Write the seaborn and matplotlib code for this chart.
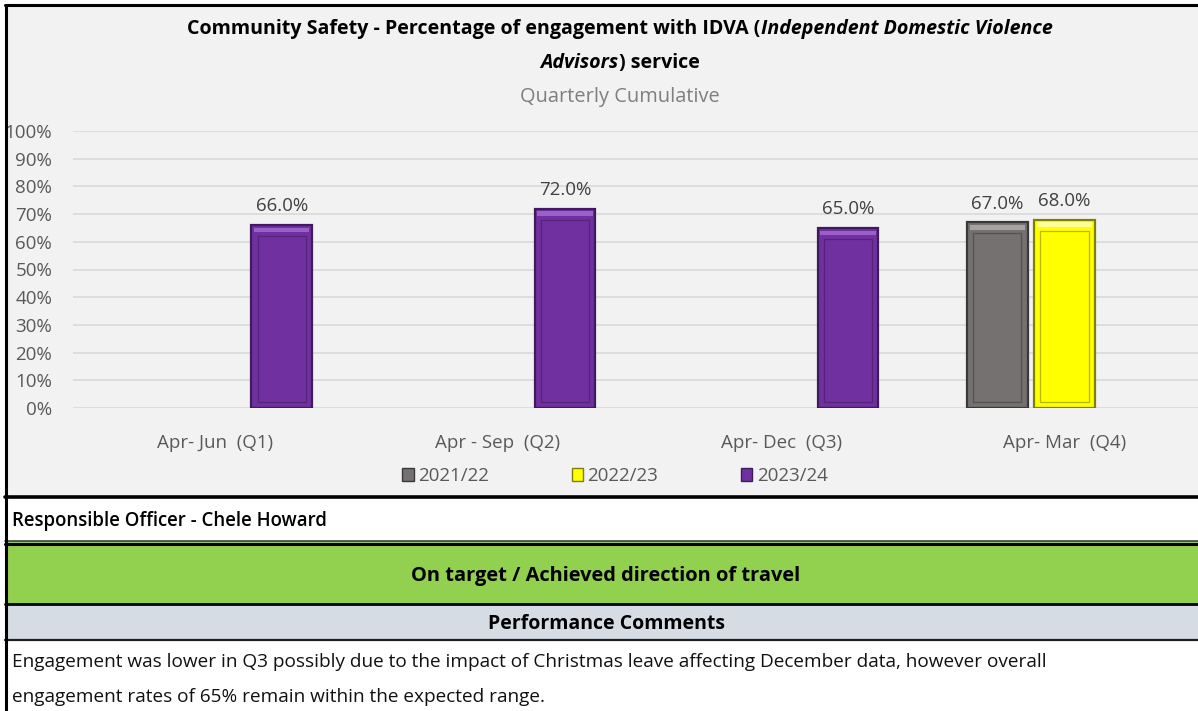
import numpy as np
import pandas as pd
import matplotlib
matplotlib.use("Agg")
import matplotlib.pyplot as plt
from matplotlib.patches import Rectangle, Patch
import seaborn as sns

# ---------------- data ----------------
quarters = ["Apr- Jun  (Q1)", "Apr - Sep  (Q2)", "Apr- Dec  (Q3)", "Apr- Mar  (Q4)"]
years = ["2021/22", "2022/23", "2023/24"]
values_2021_22 = [np.nan, np.nan, np.nan, 67.0]
values_2022_23 = [np.nan, np.nan, np.nan, 68.0]
values_2023_24 = [66.0, 72.0, 65.0, np.nan]
yticks = [0, 10, 20, 30, 40, 50, 60, 70, 80, 90, 100]

title_l1_a = "Community Safety - Percentage of engagement with IDVA ("
title_l1_b = "Independent Domestic Violence"
title_l2_a = "Advisors"
title_l2_b = ") service"
subtitle = "Quarterly Cumulative"
officer = "Responsible Officer - Chele Howard"
status = "On target / Achieved direction of travel"
comments_head = "Performance Comments"
comment_lines = [
    "Engagement was lower in Q3 possibly due to the impact of Christmas leave affecting December data, however overall",
    "engagement rates of 65% remain within the expected range.",
]

colors = {"2021/22": "#767171", "2022/23": "#FFFF00", "2023/24": "#7030A0"}
edges = {"2021/22": "#3A3838", "2022/23": "#7F7F00", "2023/24": "#3F1A5C"}
highlights = {"2021/22": "#A6A2A2", "2022/23": "#FFFF99", "2023/24": "#9A5FC8"}

df = pd.DataFrame({
    "quarter": quarters * 3,
    "year": [years[0]] * 4 + [years[1]] * 4 + [years[2]] * 4,
    "value": values_2021_22 + values_2022_23 + values_2023_24,
})

# ---------------- figure ----------------
sns.set_theme(style="white")
FONT = ["Open Sans", "DejaVu Sans"]
plt.rcParams["font.family"] = FONT

W, H = 1198, 711
fig = plt.figure(figsize=(W / 100, H / 100), dpi=100)
fig.patch.set_facecolor("white")

def fx(px):
    return px / W

def fy(py):
    return 1 - py / H

# chart background panel
fig.patches.append(Rectangle((fx(5), fy(497)), fx(1198 - 5), fy(5) - fy(497),
                             transform=fig.transFigure, facecolor="#F2F2F2",
                             edgecolor="none", zorder=-5))
# table rows
rows = [
    (497, 541, "white"),
    (541, 604, "#92D050"),
    (604, 640, "#D6DCE4"),
    (640, 711, "white"),
]
for top, bot, col in rows:
    fig.patches.append(Rectangle((fx(5), fy(bot)), fx(1198 - 5), fy(top) - fy(bot),
                                 transform=fig.transFigure, facecolor=col,
                                 edgecolor="none", zorder=-5))
# border lines
def hline(py, lw, color="black"):
    fig.add_artist(plt.Line2D([fx(5), 1], [fy(py), fy(py)], transform=fig.transFigure,
                              color=color, lw=lw, zorder=5))
hline(5, 2.2)
hline(497, 2.6)
hline(541, 1.2, "#404040")
hline(543.5, 2.2)
hline(604, 2.0)
hline(640, 1.6, "#202020")
fig.add_artist(plt.Line2D([fx(6), fx(6)], [0, fy(5)], transform=fig.transFigure,
                          color="black", lw=2.2, zorder=5))

# ---------------- axes ----------------
ax = fig.add_axes([fx(73), fy(408), fx(1206 - 73), fy(131) - fy(408)])
ax.set_zorder(2)
ax.set_facecolor("none")
sns.barplot(data=df, x="quarter", y="value", hue="year", order=quarters,
            hue_order=years, palette=colors, width=0.71, gap=0.1,
            saturation=1, ax=ax, legend=False, zorder=3)

ax.set_ylim(0, 100)
ax.set_yticks(yticks)
ax.set_yticklabels([f"{t}%" for t in yticks])
ax.yaxis.grid(True, color="#D9D9D9", lw=1.2, zorder=0)
ax.set_axisbelow(True)
for s in ax.spines.values():
    s.set_visible(False)
ax.tick_params(axis="y", length=0, pad=15, labelsize=13.5, labelcolor="#595959")
ax.tick_params(axis="x", length=0, pad=19, labelsize=13.5, labelcolor="#595959")
ax.set_xlabel("")
ax.set_ylabel("")
ax.set_xlim(-0.5, 3.5)

for cont, yr in zip(ax.containers, years):
    for p in cont.patches:
        p.set_edgecolor(edges[yr])
        p.set_linewidth(1.6)
        x0, y0, w, h = p.get_x(), p.get_y(), p.get_width(), p.get_height()
        if np.isnan(h) or h == 0:
            continue
        ix = w * 0.1
        # top highlight band (bevel)
        ax.add_patch(Rectangle((x0 + w * 0.04, y0 + h - 2.6), w * 0.92, 1.6,
                               facecolor=highlights[yr], edgecolor="none", zorder=4))
        # inner bevel outline
        ax.add_patch(Rectangle((x0 + ix, y0 + 2.0), w - 2 * ix, h - 6.0, facecolor="none",
                               edgecolor=edges[yr], lw=0.9, alpha=0.55, zorder=4))
    ax.bar_label(cont, fmt="%.1f%%", padding=7, fontsize=13.5, color="#404040")

# legend
handles = [Patch(facecolor=colors[y], edgecolor=edges[y], label=y) for y in years]
fig.legend(handles=handles, loc="center", bbox_to_anchor=(fx(615), fy(476)), ncol=3,
           frameon=False, handlelength=0.6, handleheight=0.7, handletextpad=0.25,
           columnspacing=4.4, prop={"size": 13.5}, labelcolor="#595959")

# ---------------- titles ----------------
fig.canvas.draw()
renderer = fig.canvas.get_renderer()

def mixed_line(parts, cx, cy, size, color):
    texts = []
    for s, style in parts:
        t = fig.text(0, fy(cy), s, fontsize=size, fontweight="bold", fontstyle=style,
                     color=color, va="center", ha="left")
        texts.append(t)
    widths = [t.get_window_extent(renderer).width for t in texts]
    total = sum(widths)
    x = cx - total / 2
    for t, w in zip(texts, widths):
        t.set_x(fx(x))
        x += w

mixed_line([(title_l1_a, "normal"), (title_l1_b, "italic")], 620, 29, 14.1, "black")
mixed_line([(title_l2_a, "italic"), (title_l2_b, "normal")], 620, 63, 14.1, "black")
fig.text(fx(620), fy(97), subtitle, fontsize=14.4, color="#7F7F7F", ha="center", va="center")

# ---------------- table texts ----------------
fig.text(fx(12), fy(521), officer, fontsize=13.4, color="black", ha="left", va="center",
         fontweight="semibold")
fig.text(fx(606), fy(576), status, fontsize=14.4, fontweight="bold", color="black",
         ha="center", va="center")
fig.text(fx(607), fy(624), comments_head, fontsize=14.0, fontweight="bold", color="black",
         ha="center", va="center")
fig.text(fx(12), fy(662), comment_lines[0], fontsize=13.7, color="#111111", ha="left", va="center")
fig.text(fx(12), fy(697), comment_lines[1], fontsize=13.7, color="#111111", ha="left", va="center")

fig.savefig("out.png", dpi=100, facecolor="white")
